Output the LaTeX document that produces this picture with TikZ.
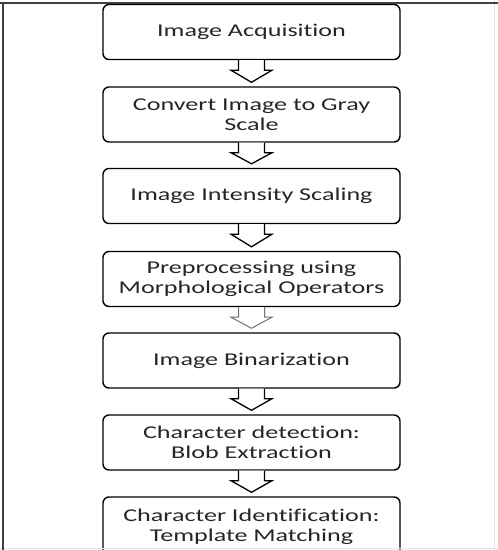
\documentclass[tikz,border=0pt]{standalone}
\usepackage{fontspec}
\setmainfont{Carlito}[FakeStretch=1.45, RawFeature=-liga]
\usetikzlibrary{calc}
\tikzset{
  x=1pt, y=-1pt,
  stepbox/.style={draw=black, line width=1.4pt, rounded corners=6pt, minimum width=297pt,
    minimum height=55pt, align=center, inner sep=0pt, text=black!85,
    font=\fontsize{18}{20.5}\selectfont, fill=white},
  blockarr/.style={draw=black, line width=1.3pt, fill=white, line join=miter},
  framebar/.style={draw=black!75, line width=2pt},
  faint/.style={draw=black!10, line width=1pt}
}
\newcommand\barrow[3][]{%
  \draw[blockarr,#1] let \p1=(#2.south), \p2=(#3.north) in
    (\x1-13pt,\y1) -- (\x1-13pt,\y1-10pt) -- (\x1-20.5pt,\y1-10pt) -- (\x1,\y2+4pt)
    -- (\x1+20.5pt,\y1-10pt) -- (\x1+13pt,\y1-10pt) -- (\x1+13pt,\y1);}
\begin{document}
\begin{tikzpicture}
\useasboundingbox (0,0) rectangle (498,550);
\begin{scope}
\clip (0,0) rectangle (498,550);
\node[stepbox] (b1) at (251.5,32) {Image Acquisition};
\node[stepbox] (b2) at (251.5,114.5) {Convert Image to Gray\\Scale};
\node[stepbox] (b3) at (251.5,196) {Image Intensity Scaling};
\node[stepbox] (b4) at (251.5,279) {Preprocessing using\\Morphological Operators};
\node[stepbox] (b5) at (251.5,360.5) {Image Binarization};
\node[stepbox] (b6) at (251.5,442.5) {Character detection:\\Blob Extraction};
\node[stepbox, minimum height=60pt] (b7) at (251.5,527) {Character Identification:\\Template Matching};
\draw[faint] (494,0) -- (494,550);
\draw[faint] (0,548.5) -- (498,548.5);
\draw[framebar] (0,3) -- (498,3);
\draw[framebar] (2.5,2) -- (2.5,550);
\barrow{b1}{b2}
\barrow{b2}{b3}
\barrow{b3}{b4}
\barrow[draw=black!55, line width=1pt]{b4}{b5}
\barrow{b5}{b6}
\barrow{b6}{b7}
\end{scope}
\end{tikzpicture}
\end{document}
